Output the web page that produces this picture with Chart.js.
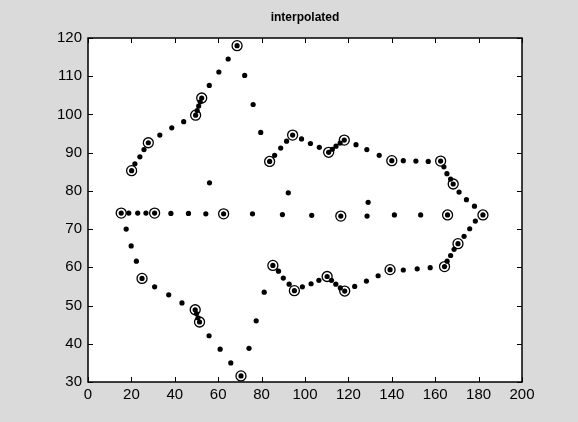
<!DOCTYPE html>
<html>
<head>
<meta charset="utf-8">
<script src="https://cdn.jsdelivr.net/npm/chart.js@4.4.1/dist/chart.umd.min.js"></script>
<style>
html, body { margin: 0; padding: 0; background: #dadada; }
#wrap { width: 578px; height: 422px; }
</style>
</head>
<body>
<div id="wrap"><canvas id="grafico" width="578" height="422"></canvas></div>
<script>
// puntos originales (circulos)
const origX = [20.1, 27.8, 49.6, 52.4, 68.7, 83.7, 94.3, 110.9, 118.1, 140.0, 162.5, 168.3, 182.0,
  170.5, 164.3, 139.2, 118.3, 110.2, 95.1, 85.2, 70.5, 51.4, 49.4, 24.9,
  15.3, 30.7, 62.5, 116.5, 165.7];
const origY = [85.3, 92.6, 99.8, 104.3, 118.0, 87.7, 94.6, 90.1, 93.3, 87.9, 87.8, 81.8, 73.7,
  66.2, 60.2, 59.4, 53.8, 57.6, 53.9, 60.5, 31.6, 45.7, 48.9, 57.1,
  74.2, 74.2, 74.0, 73.4, 73.7];

// puntos interpolados (puntos negros)
const interpX = [20.1, 21.6, 23.9, 25.8, 27.8, 33.1, 38.6, 44.1, 49.6, 50.3, 51.0, 51.7, 52.4, 55.9, 60.3, 64.6, 68.7,
  72.2, 76.1, 79.6, 83.7, 86.0, 88.8, 91.5, 94.3, 98.4, 102.5, 106.6, 110.9, 112.6, 114.3, 116.2, 118.1,
  123.5, 128.5, 134.2, 140.0, 145.3, 151.1, 156.8, 162.5, 164.0, 165.4, 167.1, 168.3, 171.0, 174.4, 178.1, 182.0,
  178.5, 175.9, 173.3, 170.5, 168.7, 167.1, 165.5, 164.3, 157.7, 151.7, 145.3, 139.2, 133.7, 128.3, 122.9, 118.3,
  116.3, 114.2, 112.2, 110.2, 106.4, 102.8, 98.8, 95.1, 92.7, 90.0, 87.8, 85.2, 81.2, 77.5, 74.2, 70.5,
  65.8, 60.9, 55.8, 51.4, 50.7, 50.0, 49.4, 43.3, 37.2, 30.7, 24.9, 22.3, 19.9, 17.6, 15.3,
  18.8, 22.9, 26.7, 30.7, 38.2, 46.3, 54.3, 62.5, 75.8, 89.6, 103.1, 116.5, 128.6, 141.2, 153.3, 165.7,
  56.0, 92.3, 129.1];
const interpY = [85.3, 87.1, 88.9, 90.8, 92.6, 94.6, 96.5, 98.1, 99.8, 101.0, 102.2, 103.3, 104.3, 107.6, 111.1, 114.5, 118.0,
  110.2, 102.6, 95.3, 87.7, 89.3, 91.2, 93.0, 94.6, 93.6, 92.4, 91.4, 90.1, 90.9, 91.7, 92.5, 93.3,
  92.1, 90.8, 89.3, 87.9, 87.9, 87.8, 87.7, 87.8, 86.3, 84.5, 83.1, 81.8, 79.7, 77.7, 76.0, 73.7,
  72.1, 70.1, 68.1, 66.2, 64.7, 63.1, 61.6, 60.2, 59.9, 59.6, 59.3, 59.4, 57.8, 56.4, 55.0, 53.8,
  54.6, 55.6, 56.6, 57.6, 56.6, 55.7, 54.9, 53.9, 55.6, 57.2, 59.0, 60.5, 53.5, 46.0, 38.8, 31.6,
  35.0, 38.6, 42.1, 45.7, 46.8, 47.9, 48.9, 50.7, 52.8, 54.9, 57.1, 61.6, 65.6, 70.0, 74.2,
  74.2, 74.2, 74.2, 74.2, 74.1, 74.1, 74.0, 74.0, 74.0, 73.8, 73.6, 73.4, 73.4, 73.7, 73.7, 73.7,
  82.1, 79.5, 77.0];

// marcas de los ejes
const xTicks = [0, 20, 40, 60, 80, 100, 120, 140, 160, 180, 200];
const yTicks = [30, 40, 50, 60, 70, 80, 90, 100, 110, 120];

const puntosOrig = origX.map((x, i) => ({ x: x, y: origY[i] }));
const puntosInterp = interpX.map((x, i) => ({ x: x, y: interpY[i] }));

// fondo blanco, marco y marcas hacia adentro (como matlab)
const marcoPlugin = {
  id: 'marco',
  beforeDatasetsDraw(chart) {
    const { ctx, chartArea: a, scales } = chart;
    ctx.save();
    ctx.strokeStyle = '#000';
    ctx.lineWidth = 1;
    const len = 5;
    ctx.beginPath();
    xTicks.forEach(v => {
      const px = Math.round(scales.x.getPixelForValue(v)) + 0.5;
      ctx.moveTo(px, a.bottom); ctx.lineTo(px, a.bottom - len);
      ctx.moveTo(px, a.top); ctx.lineTo(px, a.top + len);
    });
    yTicks.forEach(v => {
      const py = Math.round(scales.y.getPixelForValue(v)) + 0.5;
      ctx.moveTo(a.left, py); ctx.lineTo(a.left + len, py);
      ctx.moveTo(a.right, py); ctx.lineTo(a.right - len, py);
    });
    ctx.stroke();
    ctx.lineWidth = 1.5;
    ctx.strokeRect(a.left, a.top, a.right - a.left, a.bottom - a.top);
    ctx.restore();
  },
  beforeDraw(chart) {
    const { ctx, chartArea: a } = chart;
    ctx.save();
    ctx.fillStyle = '#fff';
    ctx.fillRect(a.left, a.top, a.right - a.left, a.bottom - a.top);
    ctx.restore();
  }
};

const ctx = document.getElementById('grafico').getContext('2d');
const grafico = new Chart(ctx, {
  type: 'scatter',
  data: {
    datasets: [
      {
        label: 'interpolados',
        data: puntosInterp,
        pointRadius: 2.6,
        pointBackgroundColor: '#000',
        pointBorderWidth: 0,
        showLine: false
      },
      {
        label: 'originales',
        data: puntosOrig,
        pointRadius: 5,
        pointBackgroundColor: 'rgba(0,0,0,0)',
        pointBorderColor: '#000',
        pointBorderWidth: 1.3,
        showLine: false
      }
    ]
  },
  plugins: [marcoPlugin],
  options: {
    responsive: false,
    animation: false,
    devicePixelRatio: 1,
    layout: { padding: { left: 0, right: 56, top: 0, bottom: 0 } },
    plugins: {
      legend: { display: false },
      tooltip: { enabled: false },
      title: {
        display: true,
        text: 'interpolated',
        fullSize: false,
        color: '#000',
        font: { family: 'Liberation Sans', size: 12, weight: 'bold' },
        padding: { top: 10, bottom: 13.6 }
      }
    },
    scales: {
      x: {
        type: 'linear',
        min: 0,
        max: 200,
        afterBuildTicks: s => { s.ticks = xTicks.map(v => ({ value: v })); },
        afterFit: s => { s.height = 40; },
        grid: { display: false, drawTicks: false },
        border: { display: false },
        ticks: {
          color: '#000',
          padding: 4,
          maxRotation: 0,
          font: { family: 'Liberation Sans', size: 15 }
        }
      },
      y: {
        type: 'linear',
        min: 30,
        max: 120,
        afterBuildTicks: s => { s.ticks = yTicks.map(v => ({ value: v })); },
        afterFit: s => { s.width = 88; },
        grid: { display: false, drawTicks: false },
        border: { display: false },
        ticks: {
          color: '#000',
          padding: 6,
          font: { family: 'Liberation Sans', size: 15 }
        }
      }
    }
  }
});
</script>
</body>
</html>
